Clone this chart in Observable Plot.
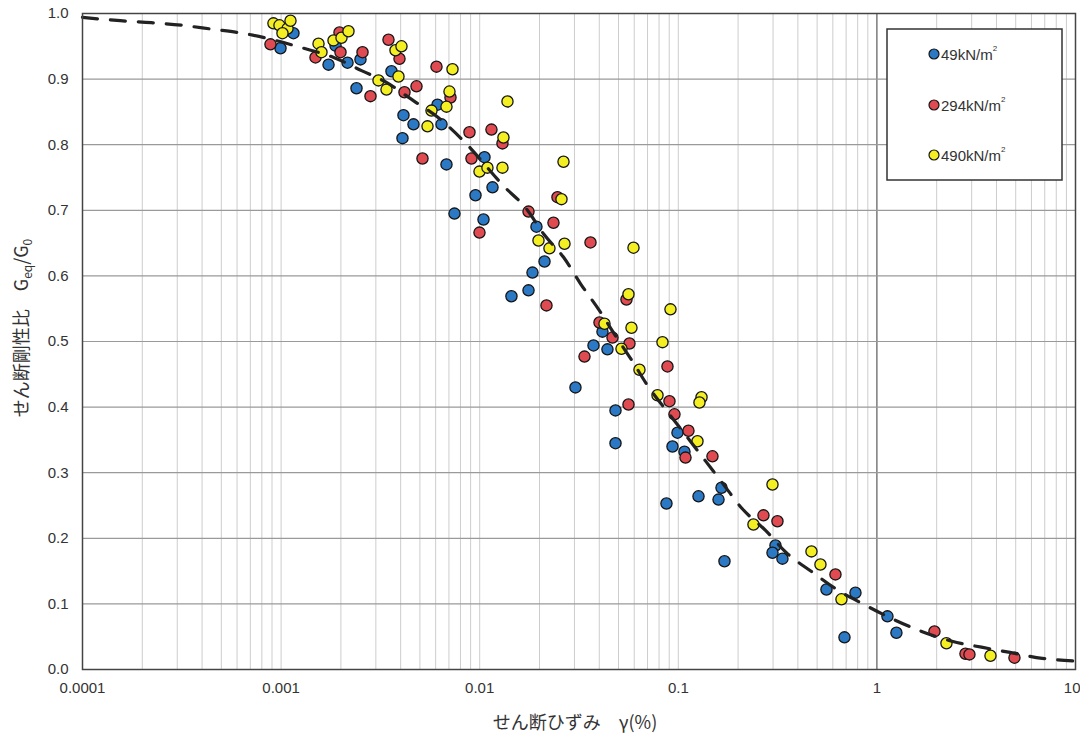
<!DOCTYPE html>
<html><head><meta charset="utf-8">
<script src="https://cdn.jsdelivr.net/npm/d3@7"></script>
<script src="https://cdn.jsdelivr.net/npm/@observablehq/plot@0.6"></script>
<style>
body{margin:0;background:#fff}
#chart{position:relative;width:1080px;height:734px;overflow:hidden}
</style>
</head><body><div id="chart"></div>
<script>
// ---- data: [shear strain γ (%), G_eq/G_0]
const series49 = [[0.001154,0.970],[0.000993,0.947],[0.001733,0.922],[0.00188,0.951],[0.00216,0.925],[0.00251,0.930],[0.003596,0.912],[0.002397,0.886],[0.00613,0.861],[0.004132,0.845],[0.00464,0.831],[0.006422,0.831],[0.004085,0.810],[0.006803,0.770],[0.01057,0.781],[0.0116,0.735],[0.009524,0.723],[0.007464,0.695],[0.01045,0.686],[0.01931,0.675],[0.0212,0.622],[0.01844,0.605],[0.01761,0.578],[0.01445,0.569],[0.04151,0.515],[0.03741,0.494],[0.04398,0.488],[0.03035,0.430],[0.04828,0.395],[0.04828,0.345],[0.09904,0.361],[0.09348,0.340],[0.1074,0.332],[0.08718,0.253],[0.1264,0.264],[0.1594,0.259],[0.165,0.277],[0.1708,0.165],[0.3085,0.189],[0.298,0.178],[0.3345,0.169],[0.5572,0.122],[0.78,0.117],[0.6866,0.049],[1.13,0.081],[1.254,0.056]];
const series294 = [[0.000884,0.953],[0.00149,0.933],[0.001968,0.971],[0.001991,0.941],[0.00257,0.941],[0.003473,0.960],[0.003946,0.931],[0.002819,0.874],[0.004181,0.880],[0.004806,0.889],[0.006059,0.919],[0.007127,0.872],[0.005151,0.779],[0.008882,0.819],[0.01146,0.823],[0.01302,0.802],[0.00909,0.779],[0.009975,0.666],[0.02464,0.720],[0.01761,0.698],[0.02352,0.681],[0.03613,0.651],[0.02169,0.555],[0.05483,0.564],[0.0401,0.529],[0.04663,0.506],[0.05677,0.497],[0.0337,0.477],[0.0882,0.462],[0.09026,0.409],[0.05612,0.404],[0.09565,0.389],[0.1125,0.364],[0.1087,0.323],[0.1486,0.325],[0.2684,0.235],[0.3157,0.226],[0.6185,0.145],[1.949,0.058],[2.792,0.024],[2.924,0.023],[4.927,0.018]];
const series490 = [[0.000915,0.985],[0.000981,0.982],[0.001077,0.977],[0.001115,0.989],[0.001016,0.970],[0.001543,0.954],[0.001597,0.941],[0.001836,0.959],[0.002014,0.963],[0.002184,0.973],[0.003767,0.944],[0.004038,0.950],[0.0039,0.904],[0.003093,0.898],[0.003394,0.884],[0.007295,0.915],[0.007044,0.881],[0.005718,0.852],[0.006803,0.858],[0.00546,0.828],[0.0138,0.866],[0.01317,0.811],[0.009975,0.759],[0.01094,0.765],[0.01302,0.765],[0.02642,0.774],[0.02581,0.717],[0.01977,0.654],[0.02245,0.642],[0.02673,0.649],[0.05948,0.643],[0.05612,0.572],[0.09133,0.549],[0.04249,0.527],[0.05811,0.521],[0.05175,0.489],[0.08325,0.499],[0.06375,0.457],[0.07857,0.418],[0.1309,0.415],[0.1278,0.407],[0.1249,0.348],[0.298,0.282],[0.239,0.221],[0.4683,0.180],[0.5197,0.160],[0.6631,0.107],[2.24,0.040],[3.731,0.021]];
const fitCurve = [[0.0001,0.994],[0.000155,0.989],[0.000222,0.986],[0.000318,0.982],[0.000451,0.976],[0.000638,0.970],[0.0013,0.947],[0.00184,0.933],[0.00254,0.913],[0.00339,0.895],[0.00469,0.866],[0.0062,0.841],[0.00828,0.806],[0.0133,0.736],[0.017,0.704],[0.0211,0.663],[0.0265,0.628],[0.0322,0.588],[0.0397,0.549],[0.0482,0.509],[0.0587,0.470],[0.0707,0.431],[0.0881,0.393],[0.111,0.354],[0.137,0.318],[0.168,0.283],[0.21,0.245],[0.275,0.212],[0.35,0.178],[0.47,0.149],[0.62,0.123],[0.85,0.100],[1.22,0.076],[1.65,0.059],[2.39,0.043],[3.36,0.034],[4.68,0.026],[6.8,0.017],[10,0.013]];

const seriesNames = ["49kN/m", "294kN/m", "490kN/m"];
const seriesColors = ["#2b79c4", "#e04b52", "#f3ef22"];
const xTicks = [0.0001, 0.001, 0.01, 0.1, 1, 10];
const xTickLabels = ["0.0001", "0.001", "0.01", "0.1", "1", "10"];
const yTicks = [0, 0.1, 0.2, 0.3, 0.4, 0.5, 0.6, 0.7, 0.8, 0.9, 1.0];
const yTickLabels = ["0.0","0.1","0.2","0.3","0.4","0.5","0.6","0.7","0.8","0.9","1.0"];
const decades = [0.0001, 0.001, 0.01, 0.1, 1];
const minorSteps = [1,2,3,4,5,6,7,8,9];

const minorGrid = [];
decades.forEach(d => minorSteps.forEach(m => { const v = +(d*m).toPrecision(3); if (v > 0.0001 && v !== 1) minorGrid.push(v); }));
const yGrid = yTicks.filter(v => v > 0 && v < 1);

const dotOpts = (c) => ({x: d => d[0], y: d => d[1], r: 5.6, fill: c, stroke: "#151515", strokeWidth: 1.3});

const plot = Plot.plot({
  width: 1080, height: 734,
  marginLeft: 82, marginRight: 5, marginTop: 13, marginBottom: 65,
  style: {background: "#fff", fontFamily: "'Liberation Sans', Arial, sans-serif", fontSize: "15px", color: "#333"},
  x: {type: "log", domain: [0.0001, 10], ticks: xTicks, tickFormat: d => xTickLabels[xTicks.indexOf(d)], tickSize: 0, tickPadding: 13, label: null},
  y: {domain: [0, 1], ticks: yTicks, tickFormat: d => yTickLabels[Math.round(d*10)], tickSize: 0, tickPadding: 14, label: null},
  marks: [
    Plot.ruleX(minorGrid, {stroke: "#cdcdcd", strokeWidth: 1}),
    Plot.ruleX([1], {stroke: "#5a5a5a", strokeWidth: 1.2}),
    Plot.ruleY(yGrid, {stroke: "#9a9a9a", strokeWidth: 1.2}),
    Plot.dot(series49, dotOpts(seriesColors[0])),
    Plot.dot(series294, dotOpts(seriesColors[1])),
    Plot.dot(series490, dotOpts(seriesColors[2])),
    Plot.line(fitCurve, {x: d => d[0], y: d => d[1], stroke: "#222", strokeWidth: 3.2, strokeDasharray: "15,13", curve: "monotone-x"}),
    Plot.frame({stroke: "#444", strokeWidth: 1.5})
  ]
});
document.getElementById("chart").appendChild(plot);

const svg = d3.select(plot);
const jp = "'Noto Sans CJK JP', 'Noto Sans', sans-serif";

// keep the last x tick label ("10") inside the picture
svg.selectAll("[aria-label='x-axis tick label'] text").filter(function() { return this.textContent === "10"; })
  .attr("text-anchor", "end").attr("dx", 5);

// x axis title
svg.append("text").attr("x", 575).attr("y", 729).attr("text-anchor", "middle")
  .attr("font-family", jp).attr("font-size", 18).attr("fill", "#333")
  .text("せん断ひずみ　γ(%)");

// y axis title
const yt = svg.append("text").attr("transform", "translate(28,328) rotate(-90)").attr("text-anchor", "middle")
  .attr("font-family", jp).attr("font-size", 18).attr("fill", "#333");
yt.append("tspan").text("せん断剛性比　G");
yt.append("tspan").attr("font-size", 12).attr("dy", 4).text("eq");
yt.append("tspan").attr("dy", -4).text("/G");
yt.append("tspan").attr("font-size", 12).attr("dy", 4).text("0");

// legend
const lg = svg.append("g");
lg.append("rect").attr("x", 887).attr("y", 29).attr("width", 175).attr("height", 151)
  .attr("fill", "#fff").attr("stroke", "#333").attr("stroke-width", 1.5);
const legendY = [54, 105, 155];
seriesNames.forEach((n, i) => {
  lg.append("circle").attr("cx", 934).attr("cy", legendY[i]).attr("r", 5).attr("fill", seriesColors[i])
    .attr("stroke", "#151515").attr("stroke-width", 1.2);
  const t = lg.append("text").attr("x", 941).attr("y", legendY[i] + 6).attr("text-anchor", "start")
    .attr("font-family", "'Liberation Sans', Arial, sans-serif").attr("font-size", 15).attr("fill", "#333");
  t.append("tspan").text(n);
  t.append("tspan").attr("font-size", 8).attr("dy", -9).text("2");
});
</script>
</body></html>
